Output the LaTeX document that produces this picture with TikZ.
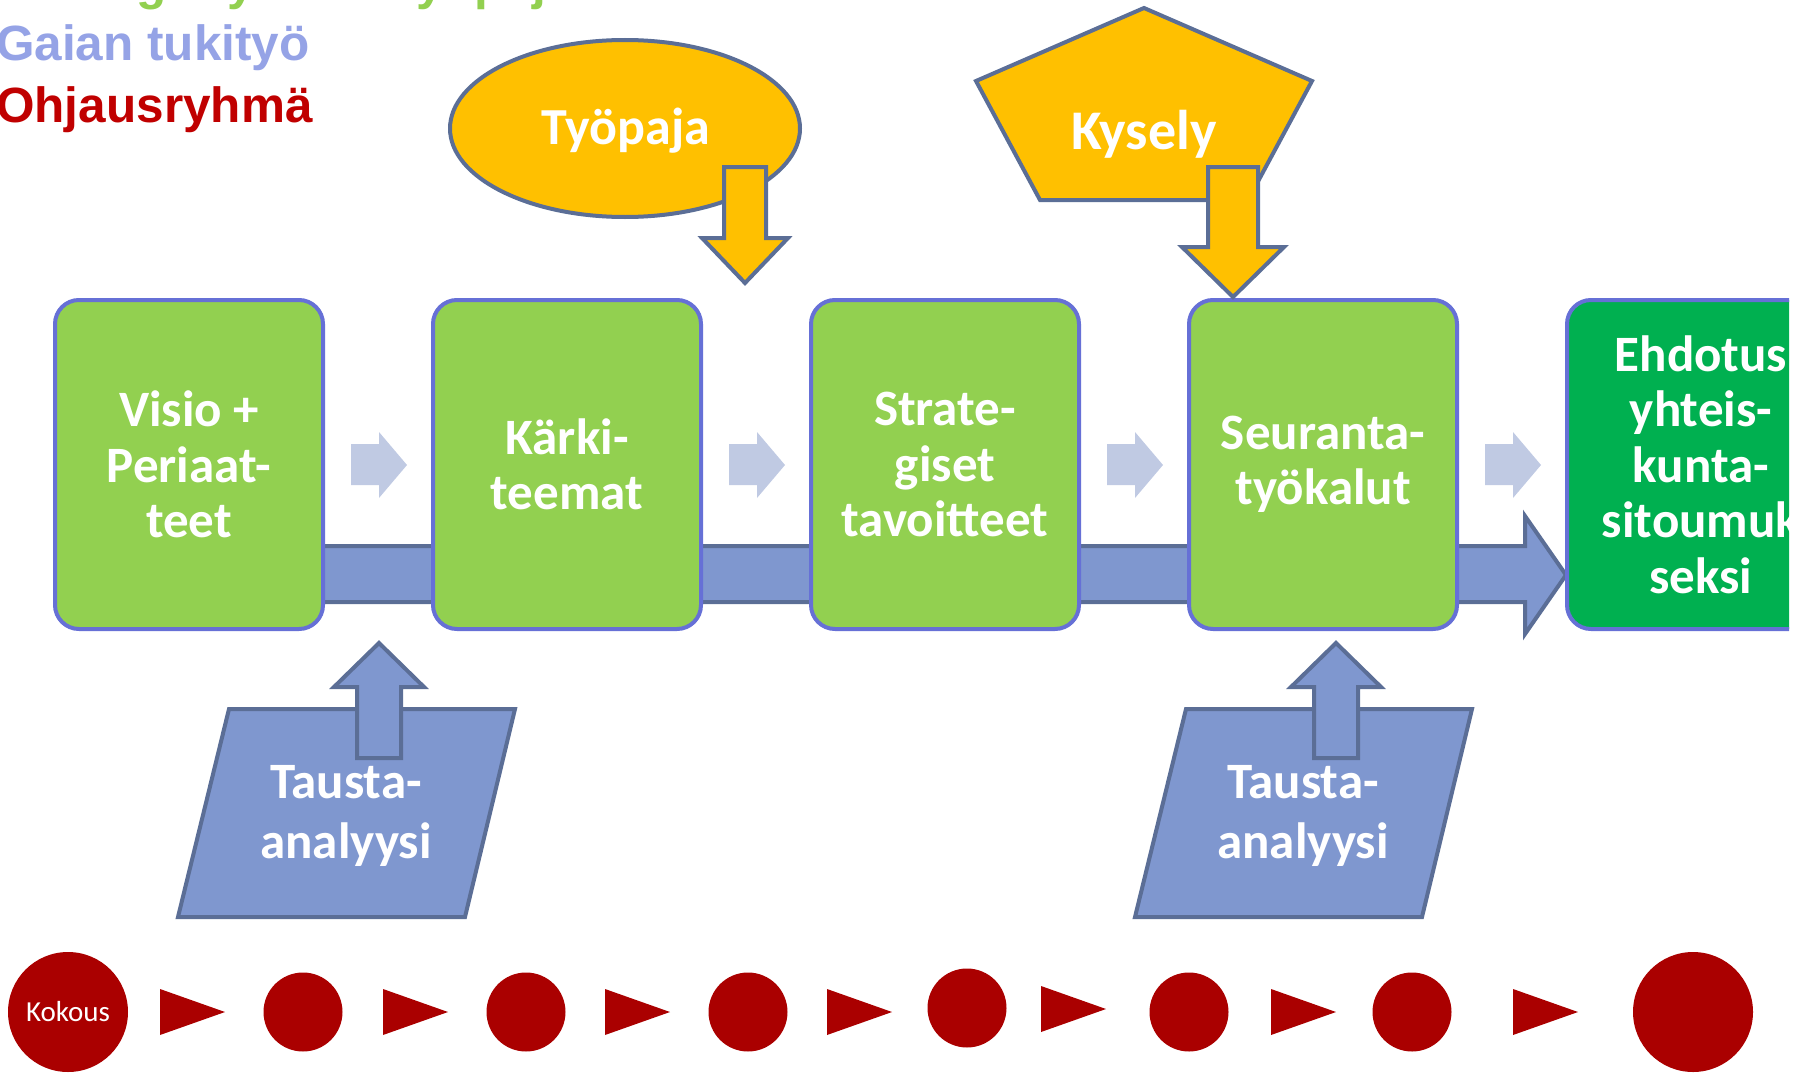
\documentclass[tikz,border=0pt]{standalone}
\usepackage{fontspec}
\setmainfont{Carlito}
\newfontfamily\arialf{Liberation Sans}
\usetikzlibrary{shapes.geometric}
\definecolor{boxgreen}{HTML}{92D050}
\definecolor{boxdark}{HTML}{00B050}
\definecolor{boxborder}{HTML}{6670D6}
\definecolor{yell}{HTML}{FFC000}
\definecolor{slate}{HTML}{5B6E96}
\definecolor{bluefill}{HTML}{7F97CF}
\definecolor{lightarr}{HTML}{C0CAE3}
\definecolor{meetred}{HTML}{AA0000}
\definecolor{titgreen}{HTML}{92D050}
\definecolor{titblue}{HTML}{95A3E6}
\definecolor{titred}{HTML}{C00000}
\tikzset{
  stagebox/.style={draw=boxborder, line width=4pt, rounded corners=24pt,
    minimum width=268pt, minimum height=329pt, inner sep=0pt, align=center,
    text=white, font=\fontsize{51}{55.5}\selectfont\bfseries},
  bigtext/.style={text=white, align=center, inner sep=0pt,
    font=\fontsize{51}{60}\selectfont\bfseries},
  yellowshape/.style={fill=yell, draw=slate, line width=4pt, line join=miter},
  blueshape/.style={fill=bluefill, draw=slate, line width=4pt, line join=miter},
  lightarrow/.style={fill=lightarr},
  meet/.style={circle, fill=meetred, inner sep=0pt, minimum size=79pt},
  bigmeet/.style={circle, fill=meetred, inner sep=0pt, minimum size=120pt},
  tri/.style={fill=meetred},
  titletext/.style={anchor=base west, inner sep=0pt,
    font=\arialf\fontsize{49.5}{58}\selectfont\bfseries}
}
\begin{document}
\begin{tikzpicture}[x=1pt,y=-1pt]
\useasboundingbox (0,0) rectangle (1807,1073);

% titles
\node[titletext, text=titgreen] (t1) at (-4,0) {Strategiaryhmän työpajat};
\node[titletext, text=titblue] (t2) at (-4,61) {Gaian tukityö};
\node[titletext, text=titred] (t3) at (-4,122) {Ohjausryhmä};

% big background arrow
\draw[blueshape] (200,546) -- (1525,546) -- (1525,516) -- (1566,575)
  -- (1525,634) -- (1525,602) -- (200,602) -- cycle;

% stage boxes
\node[stagebox, fill=boxgreen] (b1) at (189,464.5) {Visio +\\Periaat-\\teet};
\node[stagebox, fill=boxgreen] (b2) at (567,464.5) {Kärki-\\teemat};
\node[stagebox, fill=boxgreen] (b3) at (945,464.5) {Strate-\\giset\\tavoitteet};
\node[stagebox, fill=boxgreen] (b4) at (1323,464.5) {Seuranta-\\työkalut};
\begin{scope}
\clip (1500,250) rectangle (1789,700);
\node[stagebox, fill=boxdark] (b5) at (1701,464.5) {Ehdotus\\yhteis-\\kunta-\\sitoumuk\\seksi};
\end{scope}

% light arrows between boxes
\foreach \a in {351,729,1107,1485}{
  \fill[lightarrow] (\a,444) -- (\a+28,444) -- (\a+28,432) -- (\a+56,465)
    -- (\a+28,498) -- (\a+28,485) -- (\a,485) -- cycle;
}

% Työpaja ellipse
\node[ellipse, yellowshape, minimum width=350pt, minimum height=177pt,
  inner sep=0pt] (tyopaja) at (625,128.5) {};
\node[bigtext, font=\fontsize{52}{60}\selectfont\bfseries] (tyopajatext) at (626,131) {Työpaja};
\draw[yellowshape] (724,167) -- (766,167) -- (766,238) -- (788,238) -- (745,283)
  -- (702,238) -- (724,238) -- cycle;

% Kysely pentagon
\draw[yellowshape] (1144,8) -- (1312,81) -- (1248,200) -- (1040,200) -- (976,81) -- cycle;
\node[bigtext, font=\fontsize{56}{60}\selectfont\bfseries] (kysely) at (1144,134) {Kysely};
\draw[yellowshape] (1208,167) -- (1258,167) -- (1258,247) -- (1284,247) -- (1233,297)
  -- (1182,247) -- (1208,247) -- cycle;

% background analyses
\foreach \s/\n in {0/1,957/2}{
  \begin{scope}[xshift=\s pt]
  \draw[blueshape] (229,709) -- (515,709) -- (465,917) -- (178,917) -- cycle;
  \node[bigtext] (tausta\n) at (346,816) {Tausta-\\analyysi};
  \draw[blueshape] (357,758) -- (357,687) -- (334,687) -- (379,643) -- (424,687)
    -- (401,687) -- (401,758) -- cycle;
  \end{scope}
}

% meeting row
\node[bigmeet, text=white, font=\fontsize{29}{31}\selectfont] (k0) at (68,1012) {Kokous};
\node[meet] (k1) at (303,1012) {};
\node[meet] (k2) at (526,1012) {};
\node[meet] (k3) at (748,1012) {};
\node[meet] (k4) at (967,1008) {};
\node[meet] (k5) at (1189,1012) {};
\node[meet] (k6) at (1412,1012) {};
\node[bigmeet] (k7) at (1693,1012) {};
\foreach \x/\y in {160/1012,383/1012,605/1012,827/1012,1041/1009,1271/1012,1513/1012}{
  \fill[tri] (\x,\y-23) -- (\x+65,\y) -- (\x,\y+23) -- cycle;
}
\end{tikzpicture}
\end{document}
